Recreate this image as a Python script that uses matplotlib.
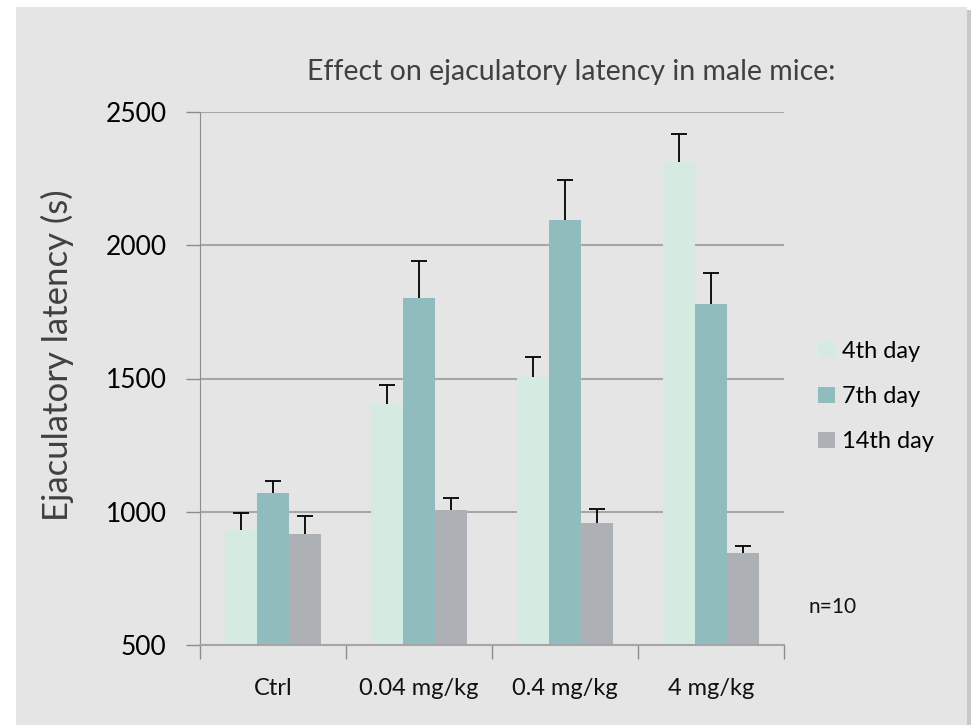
import numpy as np
from matplotlib import pyplot as plt
from matplotlib.patches import Rectangle

plt.rcParams['font.family'] = ['Lato', 'DejaVu Sans']

groups = ["Ctrl", "0.04 mg/kg", "0.4 mg/kg", "4 mg/kg"]
series = ["4th day", "7th day", "14th day"]
day4 = [932, 1404, 1507, 2312]
day7 = [1070, 1803, 2093, 1781]
day14 = [916, 1006, 956, 845]
err4 = [64, 72, 72, 107]
err7 = [44, 138, 151, 116]
err14 = [68, 45, 54, 25]
yticks = [500, 1000, 1500, 2000, 2500]

colors = ["#d5eae0", "#91bcbd", "#adb0b5"]
grid_col = "#a6a6a6"
axis_col = "#8c8c8c"

fig = plt.figure(figsize=(9.71, 7.25), dpi=100)
fig.patch.set_facecolor("white")

# gray panel with a soft shadow on the right
W, H = 971, 725
fig.patches.append(Rectangle((967 / W, 0), 4 / W, 1 - 10 / H, transform=fig.transFigure,
                             facecolor="#c8c8c8", edgecolor="none", zorder=-2))
fig.patches.append(Rectangle((16 / W, 0), 951 / W, 1 - 7 / H, transform=fig.transFigure,
                             facecolor="#e5e5e5", edgecolor="none", zorder=-1))

ax = fig.add_axes([200 / W, 1 - 645 / H, 584 / W, 533 / H])
ax.set_facecolor("none")

x = np.arange(len(groups))
w = 0.22
data = [day4, day7, day14]
errs = [err4, err7, err14]
for i in range(3):
    pos = x + (i - 1) * w
    vals = np.array(data[i])
    tops = vals + np.array(errs[i])
    ax.bar(pos, vals - 500, width=w, bottom=500, color=colors[i],
           label=series[i], zorder=2)
    # upper error bar only
    ax.vlines(pos, vals, tops, color="black", linewidth=1.3, zorder=3)
    ax.plot(pos, tops, linestyle="none", marker="_", markersize=11,
            markeredgewidth=1.3, color="black", zorder=3)

ax.set_xlim(-0.5, 3.5)
ax.set_ylim(500, 2500)
ax.set_yticks(yticks)
ax.yaxis.grid(True, color=grid_col, linewidth=1.5, zorder=1)
ax.set_axisbelow(True)

ax.set_xticks(x)
ax.set_xticklabels(groups, fontsize=17, color="#111111")
ax.set_xticks(np.arange(-0.5, 4.0, 1.0), minor=True)
ax.tick_params(axis="x", which="major", length=0, pad=24)
ax.tick_params(axis="x", which="minor", length=10, color=axis_col, width=1)
ax.tick_params(axis="y", length=10, color=axis_col, width=1, labelsize=19,
               labelcolor="black", pad=14)

for s in ["top", "right"]:
    ax.spines[s].set_visible(False)
ax.spines["left"].set_color(axis_col)
ax.spines["bottom"].set_color(grid_col)
ax.spines["bottom"].set_linewidth(1.5)

fig.text(57 / W, 1 - 355 / H, "Ejaculatory latency (s)", rotation=90,
         ha="center", va="center", fontsize=25, color="#404040")
fig.text(571 / W, 1 - 72 / H, "Effect on ejaculatory latency in male mice:",
         ha="center", va="center", fontsize=20.5, color="#404040")

ax.legend(loc="center left", bbox_to_anchor=(1.022, 0.466), frameon=False, fontsize=17,
          handlelength=0.7, handleheight=0.7, handletextpad=0.3, labelspacing=1.02)

fig.text(808 / W, 1 - 607 / H, "n=10", ha="left", va="center", fontsize=15, color="#111111")

fig.savefig("out.png", dpi=100)
